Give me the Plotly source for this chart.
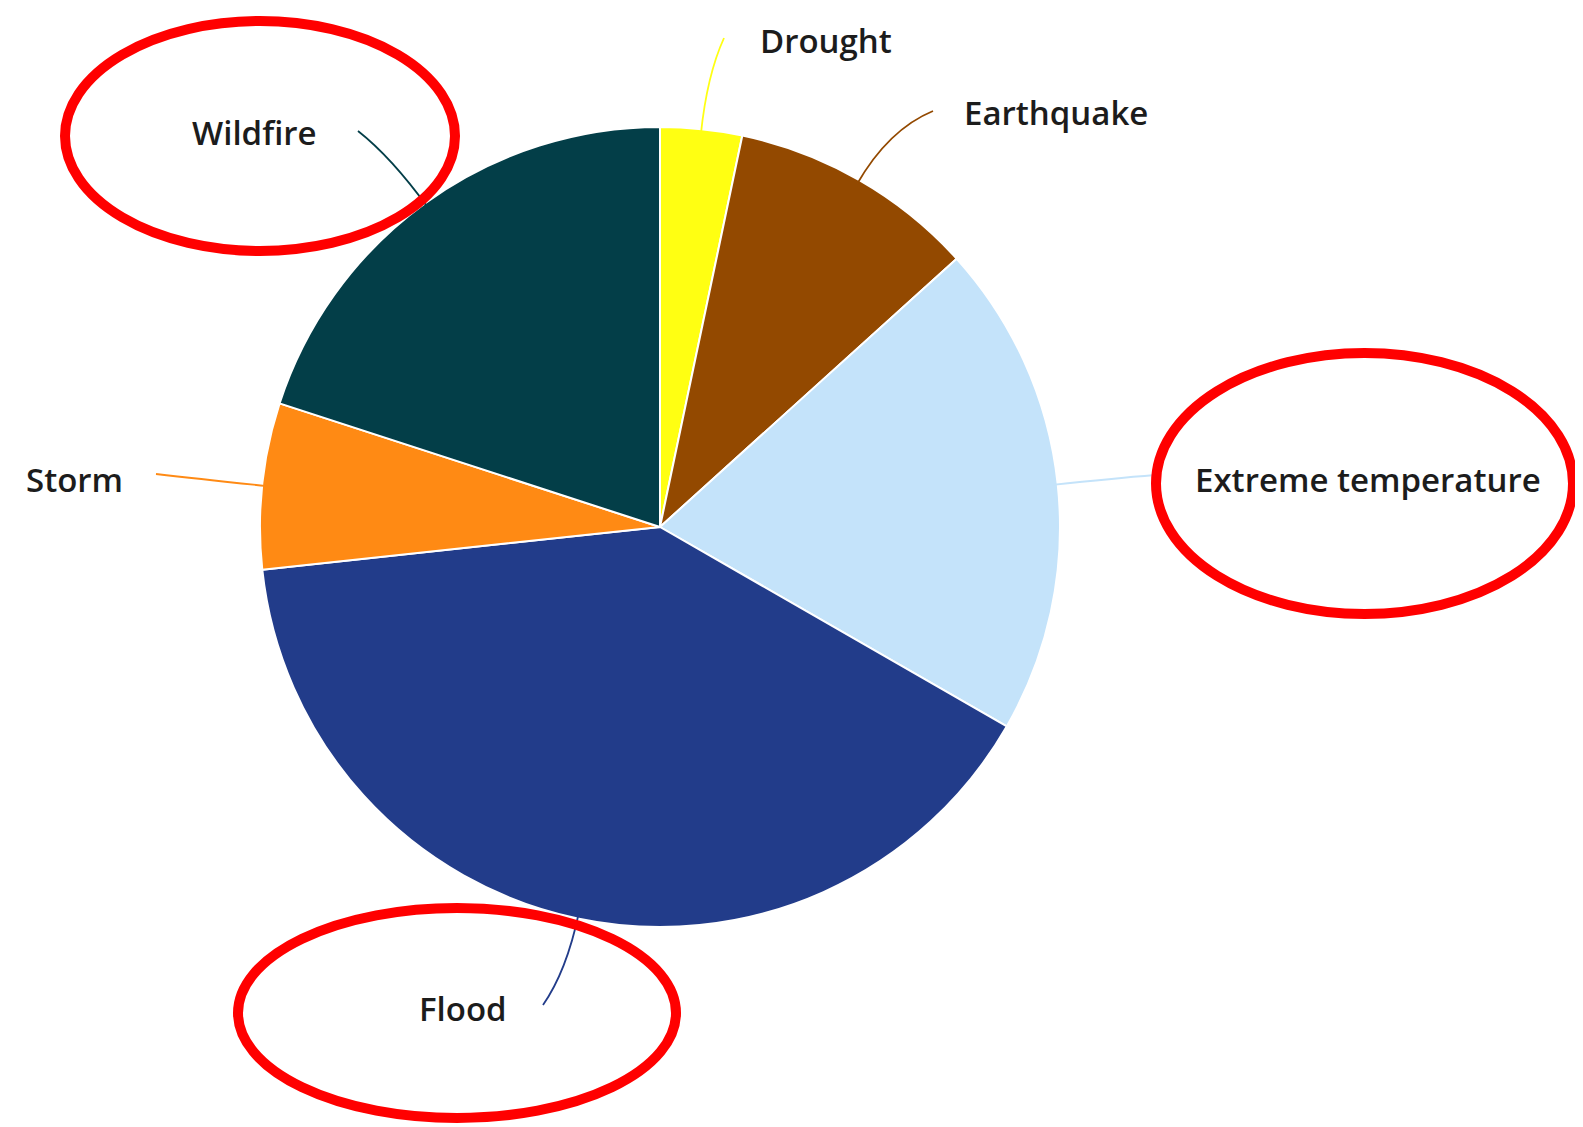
import math
import plotly.graph_objects as go

# Data
categories = ["Drought", "Earthquake", "Extreme temperature", "Flood", "Storm", "Wildfire"]
values = [3.3, 10.0, 20.0, 40.0, 6.7, 20.0]
colors = ["#FFFF12", "#934900", "#C4E3FA", "#223C8A", "#FF8A14", "#033E48"]
highlighted = ["Wildfire", "Extreme temperature", "Flood"]

W, H = 1583, 1127
CX, CY, R = 652, 519, 395  # pie centre / radius in pixels
DOMAIN_PAD = 5  # plotly draws the pie slightly inside its domain

# label centres and connector end points (pixels)
label_pos = {
    "Drought": (818, 32),
    "Earthquake": (1048, 105),
    "Extreme temperature": (1360, 471),
    "Flood": (455, 1000),
    "Storm": (66, 471),
    "Wildfire": (246, 125),
}
connector_end = {
    "Drought": (716, 30),
    "Earthquake": (925, 103),
    "Extreme temperature": (1147, 467),
    "Flood": (535, 997),
    "Storm": (148, 466),
    "Wildfire": (350, 123),
}


def px(x):
    return x / W


def py(y):
    return 1 - y / H


RD = R + DOMAIN_PAD
fig = go.Figure(go.Pie(
    labels=categories,
    values=values,
    sort=False,
    direction="clockwise",
    rotation=0,
    marker=dict(colors=colors, line=dict(color="white", width=2)),
    textinfo="none",
    hoverinfo="label+percent",
    domain=dict(x=[px(CX - RD), px(CX + RD)], y=[py(CY + RD), py(CY - RD)]),
    showlegend=False,
))

total = sum(values)
cum = 0.0
annotations = []
shapes = []
for cat, v, c in zip(categories, values, colors):
    mid = (cum + v / 2) / total * 2 * math.pi
    cum += v
    ux, uy = math.sin(mid), -math.cos(mid)
    sx, sy = CX + R * ux, CY + R * uy
    ex, ey = connector_end[cat]
    d = math.hypot(ex - sx, ey - sy) * 0.6
    qx, qy = sx + d * ux, sy + d * uy
    shapes.append(dict(
        type="path", xref="paper", yref="paper",
        path=f"M {px(sx)},{py(sy)} Q {px(qx)},{py(qy)} {px(ex)},{py(ey)}",
        line=dict(color=c, width=1.8),
    ))
    lx, ly = label_pos[cat]
    annotations.append(dict(
        x=px(lx), y=py(ly), xref="paper", yref="paper",
        text=cat, showarrow=False, xanchor="center", yanchor="middle",
        font=dict(family="Open Sans", size=33, color="#1c1c1c", weight=600),
    ))

ellipses = {
    "Wildfire": (57, 13, 447, 243),
    "Extreme temperature": (1148, 345, 1565, 606),
    "Flood": (230, 900, 668, 1110),
}
for cat in highlighted:
    x0, y0, x1, y1 = ellipses[cat]
    shapes.append(dict(type="circle", xref="paper", yref="paper",
                       x0=px(x0), x1=px(x1), y0=py(y1), y1=py(y0),
                       line=dict(color="#FF0000", width=10)))

fig.update_layout(
    width=W, height=H,
    margin=dict(l=0, r=0, t=0, b=0),
    paper_bgcolor="white", plot_bgcolor="white",
    annotations=annotations, shapes=shapes,
)

fig.write_html("out.html")
